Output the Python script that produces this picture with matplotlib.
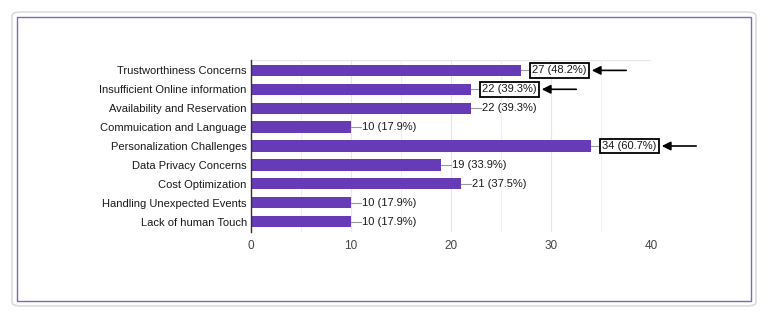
import matplotlib.pyplot as plt
from matplotlib.patches import FancyBboxPatch, Rectangle

plt.rcParams['font.family'] = ['Liberation Sans', 'DejaVu Sans']

categories = [
    "Trustworthiness Concerns",
    "Insufficient Online information",
    "Availability and Reservation",
    "Commuication and Language",
    "Personalization Challenges",
    "Data Privacy Concerns",
    "Cost Optimization",
    "Handling Unexpected Events",
    "Lack of human Touch",
]
counts = [27, 22, 22, 10, 34, 19, 21, 10, 10]
percents = [48.2, 39.3, 39.3, 17.9, 60.7, 33.9, 37.5, 17.9, 17.9]
highlighted = [0, 1, 4]

bar_color = "#673ab7"

fig = plt.figure(figsize=(7.68, 3.30), dpi=100)

# outer card and purple frame
W, H = 768, 330
fig.patches.append(FancyBboxPatch((12 / W, 1 - 306 / H), 744 / W, 294 / H,
                                  boxstyle="round,pad=0,rounding_size=0.012",
                                  transform=fig.transFigure, fill=False,
                                  edgecolor="#dcdcdc", linewidth=1.2))
fig.patches.append(Rectangle((17 / W, 1 - 301 / H), 734 / W, 284 / H,
                             transform=fig.transFigure, fill=False,
                             edgecolor="#8068b4", linewidth=1.0))

ax = fig.add_axes([251 / W, 1 - 232 / H, 400 / W, 172 / H])

y = list(range(len(categories)))
ax.barh(y, counts, height=0.6, color=bar_color, zorder=3)

ax.set_xlim(0, 40)
ax.set_ylim(8.55, -0.55)
ax.set_xticks([0, 10, 20, 30, 40])
ax.set_xticks([5, 15, 25, 35], minor=True)
ax.set_yticks(y)
ax.set_yticklabels(categories, fontsize=8, color="#1a1a1a")
ax.tick_params(axis="x", labelsize=8.5, labelcolor="#444444", length=0, pad=6)
ax.tick_params(axis="x", which="minor", length=0)
ax.tick_params(axis="y", length=0, pad=3)
ax.grid(axis="x", which="major", color="#e6e6e6", linewidth=0.8, zorder=0)
ax.grid(axis="x", which="minor", color="#f0f0f0", linewidth=0.8, zorder=0)

for s in ["top", "right", "bottom"]:
    ax.spines[s].set_visible(False)
ax.spines["left"].set_color("#333333")
ax.spines["left"].set_linewidth(1.0)
ax.spines["left"].set_zorder(4)
ax.axhline(-0.55, color="#e6e6e6", linewidth=0.8, zorder=0)

for i, (c, p) in enumerate(zip(counts, percents)):
    label = f"{c} ({p}%)"
    if i in highlighted:
        ax.plot([c, c + 0.9], [i, i], color="#999999", linewidth=0.8, zorder=3)
        ax.text(c + 1.1, i, label, va="center", ha="left", fontsize=8,
                color="#1a1a1a", zorder=5,
                bbox=dict(boxstyle="square,pad=0.2", facecolor="white",
                          edgecolor="black", linewidth=1.3))
        ax.annotate("", xy=(c + 6.8, i), xytext=(c + 10.8, i),
                    arrowprops=dict(arrowstyle="-|>", color="black", lw=1.2,
                                    mutation_scale=13),
                    annotation_clip=False)
    else:
        ax.plot([c, c + 1.0], [i, i], color="#999999", linewidth=0.8, zorder=3)
        ax.text(c + 1.1, i, label, va="center", ha="left", fontsize=8,
                color="#1a1a1a", zorder=5)

fig.savefig("out.png", dpi=100)
